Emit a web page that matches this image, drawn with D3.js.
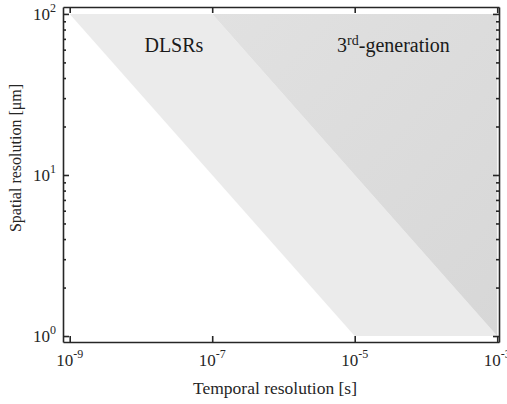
<!DOCTYPE html>
<html lang="en">
<head>
<meta charset="UTF-8" />
<title>Resolution chart</title>
<script src="https://d3js.org/d3.v7.min.js"></script>
<style>
  body { margin: 0; background: #fff; }
</style>
</head>
<body>
<div id="chart"></div>
<script>
// regions in data space: [temporal (s), spatial (um)]
const dlsrRegion = [[1e-9, 100], [1e-7, 100], [1e-3, 1], [1e-5, 1]];
const thirdGenRegion = [[1e-7, 100], [1e-3, 100], [1e-3, 1]];
const xTicks = [-9, -7, -5, -3];
const yTicks = [0, 1, 2];
const labels = [
  { name: "DLSRs", t: 2.9e-8, s: 58 },
  { name: "3", t: 3.5e-5, s: 58, sup: "rd", rest: "-generation" }
];

const W = 507, H = 404;
const margin = { top: 7, right: 8, bottom: 62, left: 63 };
const w = W - margin.left - margin.right;
const h = H - margin.top - margin.bottom;
const font = "'Liberation Serif', 'DejaVu Serif', serif";

const svg = d3.select("#chart").append("svg")
  .attr("width", W).attr("height", H)
  .attr("font-family", font);

const x = d3.scaleLog().domain([Math.pow(10, -9.094), Math.pow(10, -2.975)]).range([0, w]);
const y = d3.scaleLog().domain([Math.pow(10, -0.037), Math.pow(10, 2.043)]).range([h, 0]);

const defs = svg.append("defs");
const grad = defs.append("linearGradient").attr("id", "g3")
  .attr("x1", "0").attr("y1", "0").attr("x2", "1").attr("y2", "1");
grad.append("stop").attr("offset", "0").attr("stop-color", "#e1e1e1");
grad.append("stop").attr("offset", "1").attr("stop-color", "#d7d7d7");

const g = svg.append("g").attr("transform", `translate(${margin.left},${margin.top})`);

const line = d3.line().x(d => x(d[0])).y(d => y(d[1]));

g.append("path").datum(dlsrRegion)
  .attr("d", d => line(d) + "Z")
  .attr("fill", "#ebebeb");

g.append("path").datum(thirdGenRegion)
  .attr("d", d => line(d) + "Z")
  .attr("fill", "url(#g3)");

// annotations
g.append("text").attr("x", x(labels[0].t)).attr("y", y(labels[0].s))
  .attr("text-anchor", "middle").attr("font-size", 20).attr("fill", "#1a1a1a")
  .attr("font-family", font).text(labels[0].name);

const t3 = g.append("text").attr("x", x(labels[1].t)).attr("y", y(labels[1].s))
  .attr("text-anchor", "middle").attr("font-size", 20).attr("fill", "#1a1a1a")
  .attr("font-family", font);
t3.append("tspan").text(labels[1].name);
t3.append("tspan").attr("font-size", 14).attr("dy", -7).text(labels[1].sup);
t3.append("tspan").attr("dy", 7).text(labels[1].rest);

// axes: box with inward ticks
const axisColor = "#262626";
const majorX = xTicks.map(e => Math.pow(10, e));
const majorY = yTicks.map(e => Math.pow(10, e));
const minorY = [];
[0, 1].forEach(e => { for (let k = 2; k <= 9; k++) minorY.push(k * Math.pow(10, e)); });

function styleAxis(sel) {
  sel.selectAll("path").attr("stroke", axisColor).attr("stroke-width", 1.6);
  sel.selectAll("line").attr("stroke", axisColor).attr("stroke-width", 1.6);
  sel.selectAll("text").remove();
}

g.append("g").attr("transform", `translate(0,${h})`)
  .call(d3.axisBottom(x).tickValues(majorX).tickSize(-6).tickSizeOuter(0).tickFormat(""))
  .call(styleAxis);
g.append("g")
  .call(d3.axisTop(x).tickValues(majorX).tickSize(-6).tickSizeOuter(0).tickFormat(""))
  .call(styleAxis);
g.append("g")
  .call(d3.axisLeft(y).tickValues(majorY).tickSize(-6).tickSizeOuter(0).tickFormat(""))
  .call(styleAxis);
g.append("g")
  .call(d3.axisLeft(y).tickValues(minorY).tickSize(-3).tickSizeOuter(0).tickFormat(""))
  .call(styleAxis).select("path").remove();
g.append("g").attr("transform", `translate(${w},0)`)
  .call(d3.axisRight(y).tickValues(majorY).tickSize(-6).tickSizeOuter(0).tickFormat(""))
  .call(styleAxis);
g.append("g").attr("transform", `translate(${w},0)`)
  .call(d3.axisRight(y).tickValues(minorY).tickSize(-3).tickSizeOuter(0).tickFormat(""))
  .call(styleAxis).select("path").remove();

// tick labels with superscripts
xTicks.forEach(e => {
  const t = g.append("text").attr("x", x(Math.pow(10, e))).attr("y", h + 24)
    .attr("text-anchor", "middle").attr("font-size", 17).attr("fill", "#262626")
    .attr("font-family", font);
  t.append("tspan").text("10");
  t.append("tspan").attr("font-size", 12).attr("dy", -8).text(e);
});
yTicks.forEach(e => {
  const t = g.append("text").attr("x", -7).attr("y", y(Math.pow(10, e)) + 6)
    .attr("text-anchor", "end").attr("font-size", 17).attr("fill", "#262626")
    .attr("font-family", font);
  t.append("tspan").text("10");
  t.append("tspan").attr("font-size", 12).attr("dy", -8).text(e);
});

// axis titles
svg.append("text").attr("x", 275).attr("y", 394).attr("fill", "#262626")
  .attr("text-anchor", "middle").attr("font-size", 17.5).text("Temporal resolution [s]");
svg.append("text").attr("transform", "translate(21,158) rotate(-90)").attr("fill", "#262626")
  .attr("text-anchor", "middle").attr("font-size", 16).text("Spatial resolution [μm]");
</script>
</body>
</html>
